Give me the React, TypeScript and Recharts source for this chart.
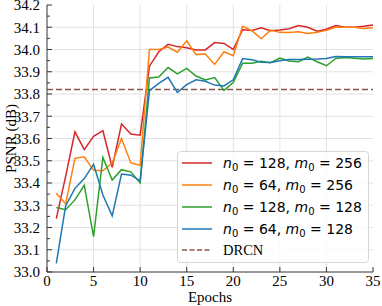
import { LineChart, Line, XAxis, YAxis, ReferenceLine, Legend } from 'recharts'

const epochs = [
   1, 2, 3, 4, 5, 6, 7, 8, 9, 10, 11, 12, 13, 14, 15, 16, 17, 18,
   19, 20, 21, 22, 23, 24, 25, 26, 27, 28, 29, 30, 31, 32, 33, 34, 35,
]

const psnrN128M256 = [
   33.24, 33.43, 33.63, 33.55, 33.61, 33.635, 33.47, 33.665, 33.62, 33.615,
   33.925, 33.99, 34.023, 34.013, 34.008, 33.998, 33.998, 34.031, 34.027, 34.0,
   34.089, 34.085, 34.098, 34.084, 34.088, 34.093, 34.108, 34.1, 34.082, 34.091,
   34.108, 34.1, 34.1, 34.104, 34.11,
]
const psnrN64M256 = [
   33.354, 33.306, 33.511, 33.518, 33.457, 33.455, 33.49, 33.6, 33.49, 33.48,
   34.0, 34.0, 34.011, 33.988, 34.039, 33.977, 33.98, 33.933, 33.99, 33.972,
   34.104, 34.085, 34.048, 34.087, 34.077, 34.076, 34.08, 34.072, 34.077, 34.086,
   34.1, 34.1, 34.1, 34.094, 34.098,
]
const psnrN128M128 = [
   33.29, 33.28, 33.324, 33.39, 33.159, 33.515, 33.413, 33.46, 33.45, 33.4,
   33.872, 33.876, 33.919, 33.89, 33.915, 33.881, 33.863, 33.874, 33.816, 33.851,
   33.938, 33.938, 33.947, 33.941, 33.961, 33.948, 33.945, 33.966, 33.945, 33.927,
   33.96, 33.964, 33.961, 33.957, 33.959,
]
const psnrN64M128 = [
   33.039, 33.297, 33.376, 33.42, 33.484, 33.346, 33.252, 33.44, 33.435, 33.41,
   33.815, 33.848, 33.875, 33.807, 33.842, 33.864, 33.857, 33.84, 33.836, 33.864,
   33.959, 33.954, 33.943, 33.942, 33.949, 33.955, 33.955, 33.956, 33.957, 33.96,
   33.969, 33.967, 33.967, 33.967, 33.967,
]
const drcnPsnr = 33.82

const xTicks = [0, 5, 10, 15, 20, 25, 30, 35]
const yTicks = [33.0, 33.1, 33.2, 33.3, 33.4, 33.5, 33.6, 33.7, 33.8, 33.9, 34.0, 34.1, 34.2]

const series = [
   { key: 'a', n0: '128', m0: '256', color: '#d62728', values: psnrN128M256 },
   { key: 'b', n0: '64', m0: '256', color: '#ff7f0e', values: psnrN64M256 },
   { key: 'c', n0: '128', m0: '128', color: '#2ca02c', values: psnrN128M128 },
   { key: 'd', n0: '64', m0: '128', color: '#1f77b4', values: psnrN64M128 },
]

const data = epochs.map((epoch, i) => {
   const row: Record<string, number> = { epoch }
   series.forEach(s => { row[s.key] = s.values[i] })
   return row
})

// major ticks plus a minor tick halfway between
const yAllTicks = yTicks.flatMap((v, i) => (i === 0 ? [v] : [(v + yTicks[i - 1]) / 2, v]))
const isMajor = (v: number) => Math.abs(v * 10 - Math.round(v * 10)) < 1e-6

const frame = '#333'
const serif = '"Liberation Serif", "Times New Roman", serif'
const math = '"DejaVu Sans", sans-serif'

const LeftTick = ({ x, y, payload }: any) => {
   const major = isMajor(payload.value)
   return (
      <g>
         <line x1={x} x2={x + (major ? 5 : 3)} y1={y} y2={y} stroke={frame} />
         {major && (
            <text x={x - 7} y={y} dy='0.35em' textAnchor='end' fontFamily={serif} fontSize={15} fill='#000'>
               {payload.value.toFixed(1)}
            </text>
         )}
      </g>
   )
}

const RightTick = ({ x, y, payload }: any) => (
   <line x1={x} x2={x - (isMajor(payload.value) ? 5 : 3)} y1={y} y2={y} stroke={frame} />
)

const BottomTick = ({ x, y, payload }: any) => (
   <g>
      <line x1={x} x2={x} y1={y} y2={y - 5} stroke={frame} />
      <text x={x} y={y + 14} textAnchor='middle' fontFamily={serif} fontSize={15} fill='#000'>
         {payload.value}
      </text>
   </g>
)

const TopTick = ({ x, y }: any) => <line x1={x} x2={x} y1={y} y2={y + 5} stroke={frame} />

const MathLabel = ({ n0, m0 }: { n0: string; m0: string }) => (
   <>
      <tspan fontStyle='italic'>n</tspan>
      <tspan fontSize={10} dy={3}>0</tspan>
      <tspan dy={-3}>{` = ${n0}, `}</tspan>
      <tspan fontStyle='italic'>m</tspan>
      <tspan fontSize={10} dy={3}>0</tspan>
      <tspan dy={-3}>{` = ${m0}`}</tspan>
   </>
)

const LegendBox = () => (
   <svg width={192} height={112} style={{ display: 'block' }}>
      <rect x={0.5} y={0.5} width={191} height={111} rx={3} fill='#fff' fillOpacity={0.8} stroke='#d6d6d6' />
      {series.map((s, i) => (
         <g key={s.key}>
            <line x1={5} x2={35} y1={12 + i * 22} y2={12 + i * 22} stroke={s.color} strokeWidth={1.5} />
            <text x={46} y={16.5 + i * 22} fontFamily={math} fontSize={14} fill='#000' style={{ whiteSpace: 'pre' }}>
               <MathLabel n0={s.n0} m0={s.m0} />
            </text>
         </g>
      ))}
      <line x1={5} x2={35} y1={99} y2={99} stroke='#8c564b' strokeWidth={1.5} strokeDasharray='5 2.5' />
      <text x={46} y={104} fontFamily={serif} fontSize={14.5} fill='#000'>DRCN</text>
   </svg>
)

export default function App() {
   return (
      <div style={{ position: 'absolute', left: 0, top: 0 }}>
         <LineChart width={382} height={306} data={data} margin={{ top: 5, right: 9, bottom: 0, left: 0 }}>
            <XAxis
               dataKey='epoch'
               type='number'
               domain={[0, 35]}
               ticks={xTicks}
               interval={0}
               height={34}
               tickSize={0}
               tickMargin={0}
               tickLine={false}
               axisLine={{ stroke: frame }}
               tick={BottomTick}
               label={({ viewBox }: any) => (
                  <text x={viewBox.x + viewBox.width / 2} y={viewBox.y + 30} textAnchor='middle' fontFamily={serif} fontSize={15} fill='#000'>
                     Epochs
                  </text>
               )}
            />
            <XAxis
               xAxisId='t'
               orientation='top'
               dataKey='epoch'
               type='number'
               domain={[0, 35]}
               ticks={xTicks}
               interval={0}
               height={0}
               tickSize={0}
               tickMargin={0}
               tickLine={false}
               axisLine={{ stroke: frame }}
               tick={TopTick}
            />
            <YAxis
               type='number'
               domain={[33.0, 34.2]}
               ticks={yAllTicks}
               interval={0}
               width={47}
               tickSize={0}
               tickMargin={0}
               tickLine={false}
               axisLine={{ stroke: frame }}
               tick={LeftTick}
               label={({ viewBox }: any) => {
                  const cx = 11
                  const cy = viewBox.y + viewBox.height / 2
                  return (
                     <text x={cx} y={cy} dy='0.35em' transform={`rotate(-90 ${cx} ${cy})`} textAnchor='middle' fontFamily={serif} fontSize={15} fill='#000'>
                        PSNR (dB)
                     </text>
                  )
               }}
            />
            <YAxis
               yAxisId='r'
               orientation='right'
               type='number'
               domain={[33.0, 34.2]}
               ticks={yAllTicks}
               interval={0}
               width={0}
               tickSize={0}
               tickMargin={0}
               tickLine={false}
               axisLine={{ stroke: frame }}
               tick={RightTick}
            />
            {xTicks.slice(1, -1).map(v => (
               <ReferenceLine key={`gx${v}`} x={v} stroke='#e2e2e2' strokeWidth={1} />
            ))}
            {yTicks.slice(1, -1).map(v => (
               <ReferenceLine key={`gy${v}`} y={v} stroke='#e2e2e2' strokeWidth={1} />
            ))}
            <ReferenceLine y={drcnPsnr} stroke='#8c564b' strokeWidth={1.5} strokeDasharray='6 3' />
            {series.map(s => (
               <Line
                  key={s.key}
                  dataKey={s.key}
                  type='linear'
                  stroke={s.color}
                  strokeWidth={1.5}
                  dot={false}
                  isAnimationActive={false}
               />
            ))}
            <Legend
               layout='vertical'
               align='center'
               verticalAlign='middle'
               wrapperStyle={{ left: 177, top: 151, width: 192, height: 112 }}
               content={() => <LegendBox />}
            />
         </LineChart>
      </div>
   )
}
